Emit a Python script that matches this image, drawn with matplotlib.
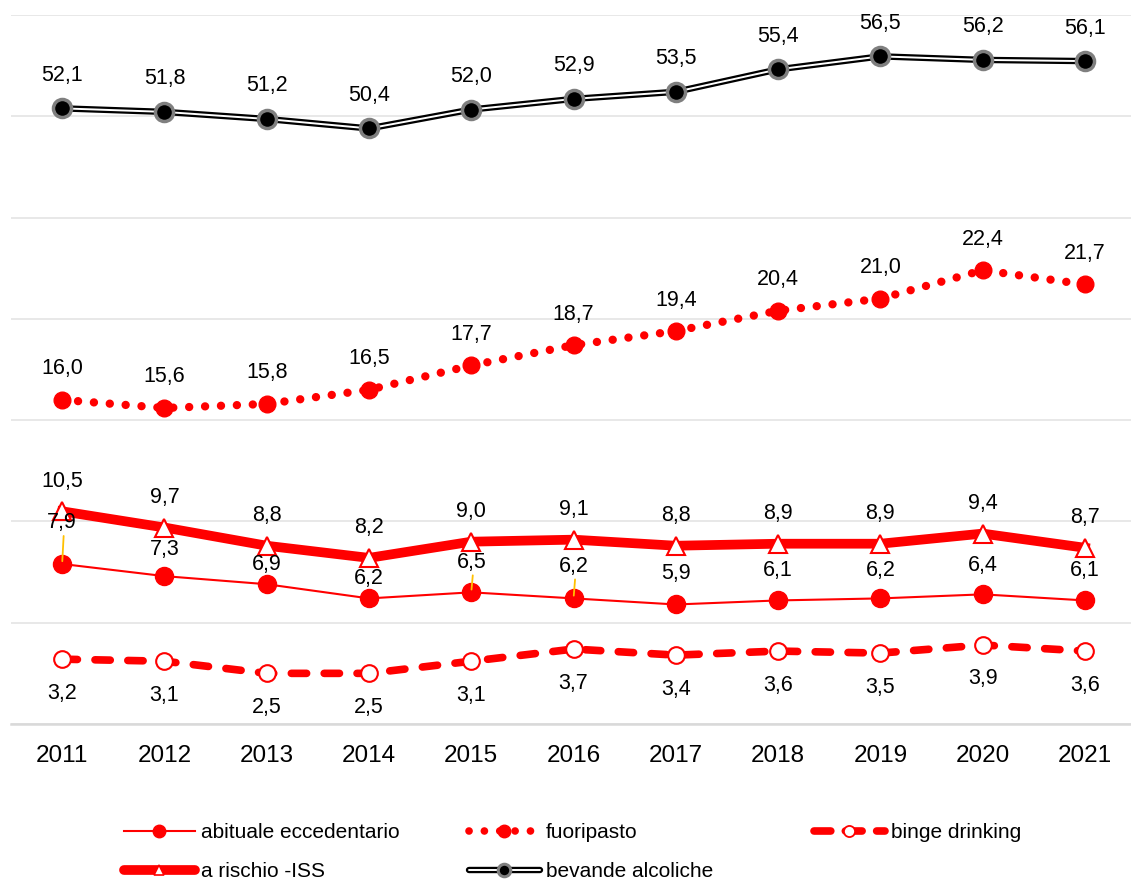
import matplotlib
matplotlib.use('Agg')
import matplotlib.pyplot as plt
from matplotlib.legend_handler import HandlerTuple

plt.rcParams['font.family'] = ['Liberation Sans', 'DejaVu Sans']

# ---------------- data ----------------
years = ['2011', '2012', '2013', '2014', '2015', '2016', '2017', '2018', '2019', '2020', '2021']
abituale = [7.9, 7.3, 6.9, 6.2, 6.5, 6.2, 5.9, 6.1, 6.2, 6.4, 6.1]
fuoripasto = [16.0, 15.6, 15.8, 16.5, 17.7, 18.7, 19.4, 20.4, 21.0, 22.4, 21.7]
binge = [3.2, 3.1, 2.5, 2.5, 3.1, 3.7, 3.4, 3.6, 3.5, 3.9, 3.6]
rischio = [10.5, 9.7, 8.8, 8.2, 9.0, 9.1, 8.8, 8.9, 8.9, 9.4, 8.7]
bevande = [52.1, 51.8, 51.2, 50.4, 52.0, 52.9, 53.5, 55.4, 56.5, 56.2, 56.1]
series_names = ['abituale eccedentario', 'fuoripasto', 'binge drinking',
                'a rischio -ISS', 'bevande alcoliche']

# ---------------- layout (label offsets in px, not data) ----------------
abit_off = [41, 27, 20, 20, 30, 32, 31, 30, 28, 29, 30]
leader_idx = [0, 4, 5]

RED = '#FF0000'
FS = 15.5
px = 0.72  # px -> pt at dpi 100

fig = plt.figure(figsize=(11.31, 8.8), dpi=100)
W, H = 1131, 880
ax = fig.add_axes([11 / W, 156 / H, 1120 / W, 709 / H])
ax2 = ax.twinx()

x = list(range(len(years)))
ax.set_xlim(-0.5, 10.45)
ax.set_ylim(0, 35)
ax.set_yticks(range(0, 36, 5))
ax.yaxis.grid(True, color='#E6E6E6', lw=1.3)
ax.set_axisbelow(True)
ax.tick_params(axis='y', length=0, labelleft=False)
ax.set_xticks(x)
ax.set_xticklabels(years, fontsize=17.5)
ax.tick_params(axis='x', length=0, pad=15)
for s in ['top', 'right', 'left']:
    ax.spines[s].set_visible(False)
ax.spines['bottom'].set_color('#D9D9D9')
ax.spines['bottom'].set_linewidth(1.8)

ax2.set_ylim(0, 60)
ax2.set_xlim(-0.5, 10.45)
ax2.axis('off')

# abituale eccedentario
l_abit, = ax.plot(x, abituale, color=RED, lw=1.5, marker='o', ms=13,
                  mfc=RED, mec=RED, zorder=3)
# fuoripasto
l_fuori, = ax.plot(x, fuoripasto, color=RED, lw=6, ls=(0, (0.01, 1.9)),
                   dash_capstyle='round', marker='o', ms=12, mfc=RED, mec=RED, zorder=3)
# binge drinking
l_binge, = ax.plot(x, binge, color=RED, lw=5.5, ls=(0, (2.0, 2.3)),
                   dash_capstyle='round', marker='o', ms=12, mfc='white',
                   mec=RED, mew=1.5, zorder=3)
# a rischio
l_risk, = ax.plot(x, rischio, color=RED, lw=7, marker='^', ms=13, mfc='white',
                  mec=RED, mew=1.5, zorder=4)
# bevande alcoliche (double line)
b1, = ax2.plot(x, bevande, color='black', lw=4.6, solid_capstyle='butt', zorder=3)
b2, = ax2.plot(x, bevande, color='white', lw=1.4, solid_capstyle='butt', zorder=4)
b3, = ax2.plot(x, bevande, ls='none', marker='o', ms=13, mfc='black',
               mec='#7F7F7F', mew=2.5, zorder=5)


def fmt(v):
    return f'{v:.1f}'.replace('.', ',')


def lab(axis, xi, yi, dy_px, text):
    axis.annotate(text, (xi, yi), xytext=(0, dy_px * px), textcoords='offset points',
                  ha='center', va='center', fontsize=FS, color='black', zorder=6)


for i in x:
    lab(ax2, i, bevande[i], 33, fmt(bevande[i]))
    lab(ax, i, fuoripasto[i], 31, fmt(fuoripasto[i]))
    lab(ax, i, rischio[i], 30, fmt(rischio[i]))
    lab(ax, i, binge[i], -34, fmt(binge[i]))
    lab(ax, i, abituale[i], abit_off[i], fmt(abituale[i]))

for i in leader_idx:
    top = abit_off[i] - 13
    ax.annotate('', xy=(i, abituale[i]), xytext=(1.5 * px, top * px),
                textcoords=('offset points'),
                arrowprops=dict(arrowstyle='-', color='#FFC000', lw=1.3,
                                shrinkA=0, shrinkB=2))

# ---------------- legends (legend-only proxy handles) ----------------
lh_abit, = ax.plot([], [], color=RED, lw=1.5, marker='o', ms=9, mfc=RED, mec=RED)
lh_fuori, = ax.plot([], [], color=RED, lw=5.5, ls=(0, (0.01, 2.0)),
                    dash_capstyle='round', marker='o', ms=9, mfc=RED, mec=RED)
lh_binge, = ax.plot([], [], color=RED, lw=5.5, ls=(0, (2.2, 1.9)),
                    dash_capstyle='round', marker='o', ms=8, mfc='white', mec=RED, mew=1.3)
lh_risk, = ax.plot([], [], color=RED, lw=7, solid_capstyle='round', marker='^', ms=7,
                   mfc='white', mec=RED, mew=1.2)
lh_b1, = ax.plot([], [], color='black', lw=4.6, solid_capstyle='round')
lh_b2, = ax.plot([], [], color='white', lw=1.4, solid_capstyle='round')
lh_b3, = ax.plot([], [], ls='none', marker='o', ms=9, mfc='black', mec='#7F7F7F', mew=2.2)

common = dict(frameon=False, fontsize=15, handlelength=3.4, handletextpad=0.3,
              borderpad=0, borderaxespad=0, labelspacing=0.98, loc='upper left',
              handler_map={tuple: HandlerTuple(ndivide=1, pad=0)})
top_y = (880 - 823) / 880
lg1 = fig.legend([lh_abit, lh_risk], [series_names[0], series_names[3]],
                 bbox_to_anchor=(124 / W, top_y), **common)
lg2 = fig.legend([lh_fuori, (lh_b1, lh_b2, lh_b3)], [series_names[1], series_names[4]],
                 bbox_to_anchor=(469 / W, top_y), **common)
lg3 = fig.legend([lh_binge], [series_names[2]],
                 bbox_to_anchor=(814 / W, top_y), **common)

fig.savefig('out.png', dpi=100)
